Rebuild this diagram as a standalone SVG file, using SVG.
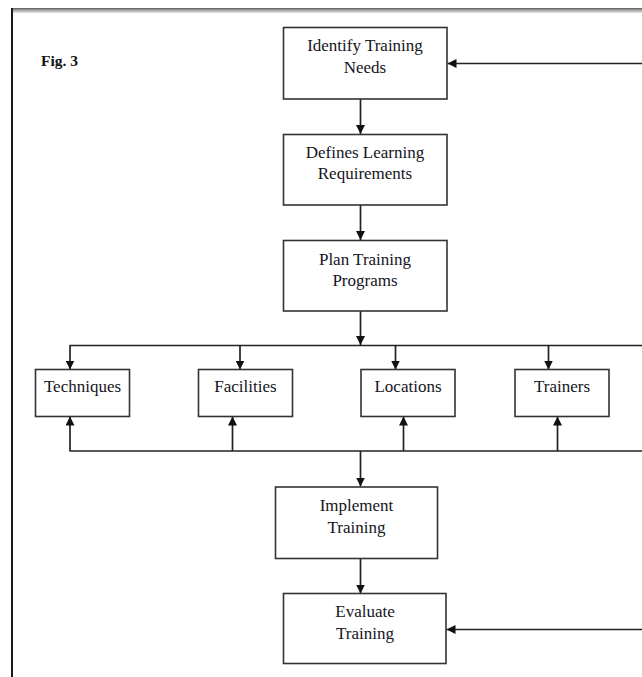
<svg xmlns="http://www.w3.org/2000/svg" width="642" height="677" viewBox="0 0 642 677">
  <defs>
    <marker id="arrow" viewBox="0 0 10 10" refX="10" refY="5" markerWidth="9" markerHeight="9" markerUnits="userSpaceOnUse" orient="auto">
      <path d="M0,0 L10,5 L0,10 Z" fill="#111"/>
    </marker>
    <linearGradient id="topEdge" x1="0" y1="0" x2="0" y2="1">
      <stop offset="0" stop-color="#555"/>
      <stop offset="0.35" stop-color="#9a9a9a"/>
      <stop offset="1" stop-color="#e8e8e8"/>
    </linearGradient>
  </defs>
  <style>
    .box { fill: #ffffff; stroke: #333; stroke-width: 1.6; }
    .label { font-family: "Liberation Serif", "Times New Roman", serif; font-size: 17px; fill: #141422; text-anchor: middle; }
    .fig { font-family: "Liberation Serif", "Times New Roman", serif; font-size: 15.5px; font-weight: bold; fill: #111; }
    .wire { fill: none; stroke: #222; stroke-width: 1.7; }
    .arrow { fill: none; stroke: #222; stroke-width: 1.7; marker-end: url(#arrow); }
  </style>

  <rect width="642" height="677" fill="#ffffff"/>

  <!-- page frame -->
  <rect x="11" y="8" width="631" height="5" fill="url(#topEdge)"/>
  <line x1="12" y1="8" x2="12" y2="677" stroke="#1a1a1a" stroke-width="2"/>

  <text class="fig" x="41" y="66">Fig. 3</text>

  <g id="connectors">
    <!-- feedback into the top -->
    <line class="arrow" x1="642" y1="63.5" x2="447.5" y2="63.5"/>
    <!-- main chain -->
    <line class="arrow" x1="360.5" y1="99" x2="360.5" y2="134"/>
    <line class="arrow" x1="360.5" y1="205" x2="360.5" y2="240"/>
    <line class="arrow" x1="360.5" y1="311" x2="360.5" y2="345"/>
    <!-- distribution bus -->
    <line class="wire" x1="69.5" y1="345.5" x2="642" y2="345.5"/>
    <line class="arrow" x1="70" y1="345.5" x2="70" y2="369.5"/>
    <line class="arrow" x1="240" y1="345.5" x2="240" y2="369.5"/>
    <line class="arrow" x1="395.5" y1="345.5" x2="395.5" y2="369.5"/>
    <line class="arrow" x1="548.5" y1="345.5" x2="548.5" y2="369.5"/>
    <!-- collection bus -->
    <line class="wire" x1="69.5" y1="451" x2="642" y2="451"/>
    <line class="arrow" x1="70" y1="451" x2="70" y2="416.5"/>
    <line class="arrow" x1="232.5" y1="451" x2="232.5" y2="416.5"/>
    <line class="arrow" x1="403.5" y1="451" x2="403.5" y2="416.5"/>
    <line class="arrow" x1="557.5" y1="451" x2="557.5" y2="416.5"/>
    <line class="arrow" x1="360.5" y1="451" x2="360.5" y2="486.5"/>
    <line class="arrow" x1="360.5" y1="558.5" x2="360.5" y2="593.5"/>
    <!-- feedback into evaluation -->
    <line class="arrow" x1="642" y1="629.5" x2="446.5" y2="629.5"/>
  </g>

  <g id="identify">
    <rect class="box" x="283.5" y="27.5" width="163.5" height="71.5"/>
    <text class="label" x="365" y="50.5">Identify Training</text>
    <text class="label" x="365" y="73">Needs</text>
  </g>

  <g id="defines">
    <rect class="box" x="283.5" y="134.5" width="163.5" height="70.5"/>
    <text class="label" x="365" y="158">Defines Learning</text>
    <text class="label" x="365" y="179">Requirements</text>
  </g>

  <g id="plan">
    <rect class="box" x="283.5" y="240.5" width="163.5" height="70.5"/>
    <text class="label" x="365" y="265">Plan Training</text>
    <text class="label" x="365" y="286">Programs</text>
  </g>

  <g id="techniques">
    <rect class="box" x="35.5" y="369.5" width="94" height="47"/>
    <text class="label" x="82.5" y="392">Techniques</text>
  </g>

  <g id="facilities">
    <rect class="box" x="198.5" y="369.5" width="94" height="47"/>
    <text class="label" x="245.5" y="392">Facilities</text>
  </g>

  <g id="locations">
    <rect class="box" x="361" y="369.5" width="94" height="47"/>
    <text class="label" x="408" y="392">Locations</text>
  </g>

  <g id="trainers">
    <rect class="box" x="515" y="369.5" width="94" height="47"/>
    <text class="label" x="562" y="392">Trainers</text>
  </g>

  <g id="implement">
    <rect class="box" x="275.5" y="487" width="162" height="71.5"/>
    <text class="label" x="356.5" y="511">Implement</text>
    <text class="label" x="356.5" y="533">Training</text>
  </g>

  <g id="evaluate">
    <rect class="box" x="283.5" y="593.5" width="162.5" height="70"/>
    <text class="label" x="365" y="617">Evaluate</text>
    <text class="label" x="365" y="638.5">Training</text>
  </g>
</svg>
